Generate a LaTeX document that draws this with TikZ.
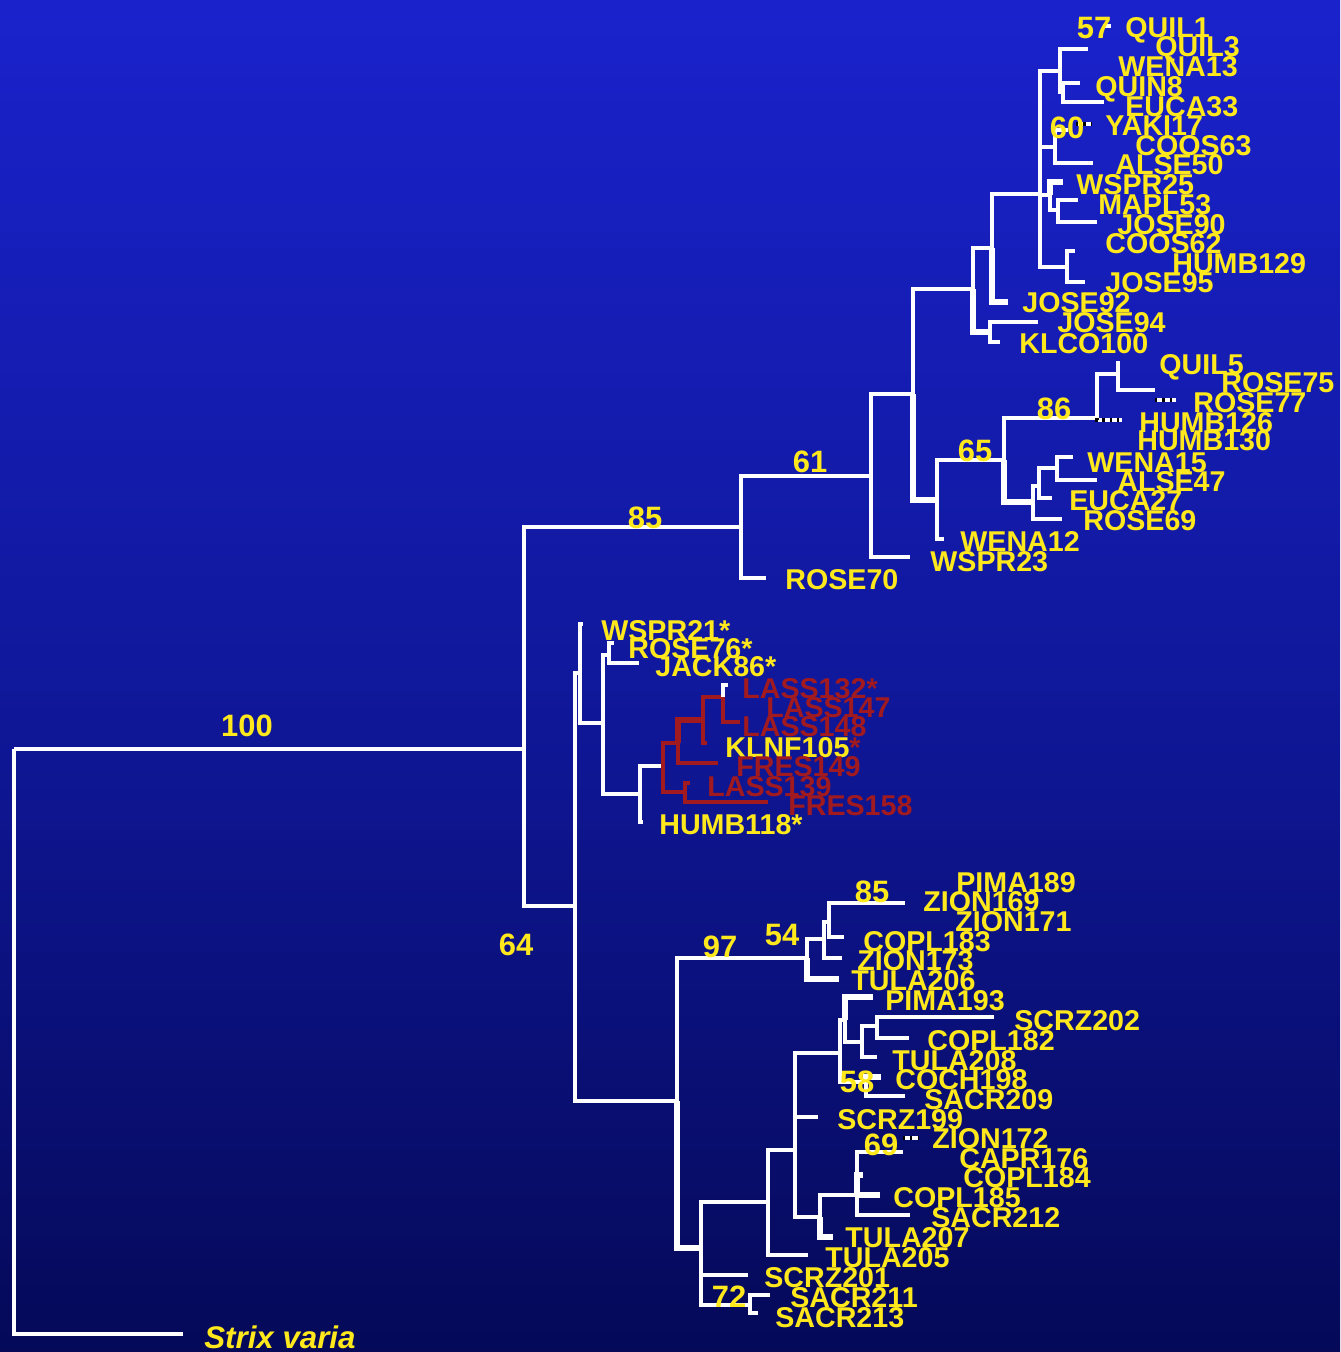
\documentclass[tikz,border=0pt]{standalone}
\usepackage{fontspec}
\setmainfont{Liberation Sans}
\definecolor{bgtop}{RGB}{26,34,204}
\definecolor{bgmid}{RGB}{16,24,156}
\definecolor{bgbot}{RGB}{5,9,88}
\definecolor{owlyellow}{RGB}{255,232,28}
\definecolor{owlred}{RGB}{160,26,32}

\begin{document}
\begin{tikzpicture}[x=0.02cm, y=-0.02cm,
  br/.style={draw=white, line width=2pt},
  brthick/.style={draw=white, line width=3.6pt},
  brred/.style={draw=owlred, line width=2pt},
  nullbr/.style={draw=white, line width=2pt,
    postaction={draw=black, line width=2pt, dash pattern=on 1.2pt off 3pt}},
  leaf/.style={anchor=west, inner sep=0pt, text=owlyellow,
    font=\fontsize{16.3}{18}\selectfont\bfseries,
    text height=11.7pt, text depth=0pt},
  redleaf/.style={leaf, text=owlred},
  boot/.style={inner sep=0pt, text=owlyellow,
    font=\fontsize{17.6}{20}\selectfont\bfseries,
    text height=12.6pt, text depth=0pt},
]
\shade[top color=bgtop, bottom color=bgbot, middle color=bgmid]
  (0,0) rectangle (1340,1352);
\useasboundingbox (0,0) rectangle (1340,1352);

% root and outgroup
\coordinate (root) at (14,749);
\coordinate (ingrp) at (524,749);
\coordinate (strix) at (183,1334);

% northern clade
\coordinate (nA) at (741,527);
\coordinate (nA1) at (871,476);
\coordinate (nA2) at (913,394);
\coordinate (tRose70) at (766,578);
\coordinate (tWspr23) at (910,557);
\coordinate (nC) at (973,289);
\coordinate (nD) at (937,500);
\coordinate (tWena12) at (944,539);
\coordinate (nD1) at (1004,460);
\coordinate (nE) at (1097,418);
\coordinate (nE1) at (1118,374);
\coordinate (tQuil5) at (1118,361);
\coordinate (tRose75) at (1155,390);
\coordinate (tHumb126) at (1122,420);
\coordinate (nF) at (1033,502);
\coordinate (nF1) at (1039,486);
\coordinate (tRose69) at (1062,519);
\coordinate (nG) at (1057,468);
\coordinate (tEuca27) at (1052,498);
\coordinate (tWena15) at (1073,457);
\coordinate (tAlse47) at (1097,480);
\coordinate (nH) at (992,248);
\coordinate (nI) at (990,332);
\coordinate (tJose92) at (1008,302);
\coordinate (tI1) at (1038,322);
\coordinate (tI2) at (1000,342);
\coordinate (nJ) at (1040,194);
\coordinate (nK) at (1060,71);
\coordinate (nK2) at (1063,92);
\coordinate (tK1) at (1088,49);
\coordinate (tK2) at (1080,83);
\coordinate (tK3) at (1104,102);
\coordinate (nM) at (1055,147);
\coordinate (tM1) at (1068,130);
\coordinate (tM2) at (1093,163);
\coordinate (nN) at (1050,195);
\coordinate (tN1) at (1063,182);
\coordinate (nO) at (1058,210);
\coordinate (tO1) at (1078,200);
\coordinate (tO2) at (1097,222);
\coordinate (nP) at (1067,267);
\coordinate (tP1) at (1075,251);
\coordinate (tP2) at (1085,282);
\coordinate (tk57a) at (1103,26);
\coordinate (tk57b) at (1111,26);
\coordinate (tk60a) at (1076,124);
\coordinate (tk60b) at (1091,124);
\coordinate (r77a) at (1155,400);
\coordinate (r77b) at (1176,400);

% southern clades
\coordinate (nB) at (575,906);
\coordinate (nQ) at (580,673);
\coordinate (tWspr21) at (583,624);
\coordinate (nS) at (603,723);
\coordinate (nT) at (609,655);
\coordinate (tRose76) at (614,643);
\coordinate (tJack86) at (639,663);
\coordinate (nU) at (640,794);
\coordinate (tHumb118) at (643,822);
\coordinate (nV) at (663,766);
\coordinate (nW) at (678,743);
\coordinate (nX) at (685,792);
\coordinate (nY) at (703,720);
\coordinate (tFres149) at (718,763);
\coordinate (nZ) at (723,697);
\coordinate (tKlnf105) at (707,743);
\coordinate (tLass132) at (728,685);
\coordinate (tLass148) at (740,722);
\coordinate (tLass139) at (690,783);
\coordinate (tFres158) at (768,802);

\coordinate (nR) at (677,1101);
\coordinate (n97) at (807,958);
\coordinate (n54) at (824,939);
\coordinate (n85) at (829,922);
\coordinate (tTula206) at (839,979);
\coordinate (tZion173) at (842,958);
\coordinate (tPima189) at (905,903);
\coordinate (tCopl183) at (844,937);
\coordinate (nAA) at (701,1248);
\coordinate (nAB) at (768,1202);
\coordinate (nAC) at (750,1305);
\coordinate (tScrz201) at (748,1275);
\coordinate (tSacr211) at (770,1295);
\coordinate (tSacr213) at (758,1313);
\coordinate (tTula205) at (808,1255);
\coordinate (nAD) at (795,1150);
\coordinate (nAE) at (840,1053);
\coordinate (tScrz199) at (818,1117);
\coordinate (nAF) at (820,1217);
\coordinate (nAG) at (845,1020);
\coordinate (nAH) at (866,1082);
\coordinate (tPima193) at (873,997);
\coordinate (nAI) at (862,1042);
\coordinate (nAJ) at (877,1026);
\coordinate (tTula208) at (877,1057);
\coordinate (tScrz202) at (994,1017);
\coordinate (tCopl182) at (909,1038);
\coordinate (tCoch198) at (881,1077);
\coordinate (tSacr209) at (905,1096);
\coordinate (n69) at (857,1195);
\coordinate (tTula207) at (833,1237);
\coordinate (tZion172) at (903,1152);
\coordinate (tCapr) at (863,1175);
\coordinate (tCopl185) at (880,1195);
\coordinate (tSacr212) at (910,1215);
\coordinate (tk69a) at (903,1138);
\coordinate (tk69b) at (918,1138);

% branches
\draw[br] (root) |- (strix) (root) |- (ingrp);
\draw[br] (ingrp) |- (nA) (ingrp) |- (nB);
\draw[br] (nA) |- (nA1) (nA) |- (tRose70);
\draw[br] (nA1) |- (nA2) (nA1) |- (tWspr23);
\draw[br] (nA2) |- (nC);
\draw[brthick] (nA2) |- (nD);
\draw[br] (nD) |- (nD1) (nD) |- (tWena12);
\draw[br] (nD1) |- (nE);
\draw[brthick] (nD1) |- (nF);
\draw[br] (nE) |- (nE1) (nE1) |- (tQuil5) (nE1) |- (tRose75);
\draw[nullbr] (nE) |- (tHumb126);
\draw[nullbr] (r77a) -- (r77b);
\draw[br] (nF) |- (nF1) (nF) |- (tRose69);
\draw[br] (nF1) |- (nG) (nF1) |- (tEuca27);
\draw[br] (nG) |- (tWena15) (nG) |- (tAlse47);
\draw[br] (nC) |- (nH);
\draw[brthick] (nC) |- (nI);
\draw[br] (nI) |- (tI1) (nI) |- (tI2);
\draw[br] (nH) |- (nJ);
\draw[brthick] (nH) |- (tJose92);
\draw[br] (nJ) |- (nK) (nJ) |- (nM) (nJ) |- (nN) (nJ) |- (nP);
\draw[br] (nK) |- (tK1) (nK) |- (nK2);
\draw[br] (nK2) |- (tK2) (nK2) |- (tK3);
\draw[br] (nM) |- (tM1) (nM) |- (tM2);
\draw[brthick] (nN) |- (tN1);
\draw[br] (nN) |- (nO);
\draw[br] (nO) |- (tO1) (nO) |- (tO2);
\draw[br] (nP) |- (tP1) (nP) |- (tP2);
\draw[br] (tk57a) -- (tk57b);
\draw[nullbr] (tk60a) -- (tk60b);

\draw[br] (nB) |- (nQ) (nB) |- (nR);
\draw[br] (nQ) |- (tWspr21) (nQ) |- (nS);
\draw[br] (nS) |- (nT) (nS) |- (nU);
\draw[br] (nT) |- (tRose76) (nT) |- (tJack86);
\draw[br] (nU) |- (nV) (nU) |- (tHumb118);
\draw[brred] (nV) |- (nW) (nV) |- (nX);
\draw[brred] (nW) |- (tFres149);
\draw[brred, line width=3.6pt] (nW) |- (nY);
\draw[brred] (nY) |- (nZ) (nY) |- (tKlnf105);
\draw[brred] (nZ) |- (tLass148);
\draw[br] (nZ) -- (nZ |- tLass132) -- (tLass132);
\draw[brred] (nX) |- (tLass139) (nX) |- (tFres158);

\draw[br] (nR) |- (n97);
\draw[brthick] (nR) |- (nAA);
\draw[br] (n97) |- (n54);
\draw[brthick] (n97) |- (tTula206);
\draw[br] (n54) |- (n85) (n54) |- (tZion173);
\draw[br] (n85) |- (tPima189) (n85) |- (tCopl183);
\draw[br] (nAA) |- (nAB) (nAA) |- (tScrz201) (nAA) |- (nAC);
\draw[br] (nAC) |- (tSacr211) (nAC) |- (tSacr213);
\draw[br] (nAB) |- (nAD) (nAB) |- (tTula205);
\draw[br] (nAD) |- (nAE) (nAD) |- (tScrz199) (nAD) |- (nAF);
\draw[br] (nAE) |- (nAG) (nAE) |- (nAH);
\draw[brthick] (nAG) |- (tPima193);
\draw[br] (nAG) |- (nAI);
\draw[br] (nAI) |- (nAJ) (nAI) |- (tTula208);
\draw[br] (nAJ) |- (tScrz202) (nAJ) |- (tCopl182);
\draw[brthick] (nAH) |- (tCoch198);
\draw[br] (nAH) |- (tSacr209);
\draw[br] (nAF) |- (n69);
\draw[brthick] (nAF) |- (tTula207);
\draw[br] (n69) |- (tZion172) (n69) |- (tSacr212);
\draw[brthick] (n69) |- (tCapr) (n69) |- (tCopl185);
\draw[nullbr] (tk69a) -- (tk69b);

% bootstrap values
\node[boot] (b100) at (247,725) {100};
\node[boot] (b85a) at (645,517) {85};
\node[boot] (b61) at (810,461) {61};
\node[boot] (b64) at (516,944) {64};
\node[boot] (b65) at (975,450) {65};
\node[boot] (b86) at (1054,408) {86};
\node[boot] (b57) at (1094,27) {57};
\node[boot] (b60) at (1067,127) {60};
\node[boot] (b85b) at (872,891) {85};
\node[boot] (b54) at (782,934) {54};
\node[boot] (b97) at (720,946) {97};
\node[boot] (b58) at (857,1081) {58};
\node[boot] (b69) at (881,1144) {69};
\node[boot] (b72) at (729,1296) {72};

% taxa
\node[leaf] (quil1) at (1125,27) {QUIL1};
\node[leaf] (quil3) at (1155,46) {QUIL3};
\node[leaf] (wena13) at (1118,66) {WENA13};
\node[leaf] (quin8) at (1095,86) {QUIN8};
\node[leaf] (euca33) at (1125,106) {EUCA33};
\node[leaf] (yaki17) at (1105,125) {YAKI17};
\node[leaf] (coos63) at (1135,145) {COOS63};
\node[leaf] (alse50) at (1115,164) {ALSE50};
\node[leaf] (wspr25) at (1076,184) {WSPR25};
\node[leaf] (mapl53) at (1098,204) {MAPL53};
\node[leaf] (jose90) at (1117,224) {JOSE90};
\node[leaf] (coos62) at (1105,243) {COOS62};
\node[leaf] (humb129) at (1172,263) {HUMB129};
\node[leaf] (jose95) at (1105,282) {JOSE95};
\node[leaf] (jose92) at (1022,302) {JOSE92};
\node[leaf] (jose94) at (1057,322) {JOSE94};
\node[leaf] (klco100) at (1019,343) {KLCO100};
\node[leaf] (quil5) at (1159,364) {QUIL5};
\node[leaf] (rose75) at (1221,382) {ROSE75};
\node[leaf] (rose77) at (1193,402) {ROSE77};
\node[leaf] (humb126) at (1139,422) {HUMB126};
\node[leaf] (humb130) at (1137,440) {HUMB130};
\node[leaf] (wena15) at (1087,462) {WENA15};
\node[leaf] (alse47) at (1117,481) {ALSE47};
\node[leaf] (euca27) at (1069,500) {EUCA27};
\node[leaf] (rose69) at (1083,520) {ROSE69};
\node[leaf] (wena12) at (960,541) {WENA12};
\node[leaf] (wspr23) at (930,561) {WSPR23};
\node[leaf] (rose70) at (785,579) {ROSE70};

\node[leaf] (wspr21) at (601,630) {WSPR21*};
\node[leaf] (rose76) at (628,648) {ROSE76*};
\node[leaf] (jack86) at (655,666) {JACK86*};
\node[redleaf] (lass132) at (742,688) {LASS132*};
\node[redleaf] (lass147) at (766,707) {LASS147};
\node[redleaf] (lass148) at (742,726) {LASS148};
\node[leaf] (klnf105) at (725,747) {KLNF105\textcolor{owlred}{*}};
\node[redleaf] (fres149) at (736,766) {FRES149};
\node[redleaf] (lass139) at (707,786) {LASS139};
\node[redleaf] (fres158) at (788,805) {FRES158};
\node[leaf] (humb118) at (659,824) {HUMB118*};

\node[leaf] (pima189) at (956,882) {PIMA189};
\node[leaf] (zion169) at (923,901) {ZION169};
\node[leaf] (zion171) at (955,921) {ZION171};
\node[leaf] (copl183) at (863,941) {COPL183};
\node[leaf] (zion173) at (857,960) {ZION173};
\node[leaf] (tula206) at (851,980) {TULA206};
\node[leaf] (pima193) at (885,1000) {PIMA193};
\node[leaf] (scrz202) at (1014,1020) {SCRZ202};
\node[leaf] (copl182) at (927,1040) {COPL182};
\node[leaf] (tula208) at (892,1060) {TULA208};
\node[leaf] (coch198) at (895,1079) {COCH198};
\node[leaf] (sacr209) at (924,1099) {SACR209};
\node[leaf] (scrz199) at (837,1119) {SCRZ199};
\node[leaf] (zion172) at (932,1138) {ZION172};
\node[leaf] (capr176) at (959,1158) {CAPR176};
\node[leaf] (copl184) at (963,1177) {COPL184};
\node[leaf] (copl185) at (893,1197) {COPL185};
\node[leaf] (sacr212) at (931,1217) {SACR212};
\node[leaf] (tula207) at (845,1237) {TULA207};
\node[leaf] (tula205) at (825,1257) {TULA205};
\node[leaf] (scrz201) at (764,1277) {SCRZ201};
\node[leaf] (sacr211) at (790,1297) {SACR211};
\node[leaf] (sacr213) at (775,1317) {SACR213};

\node[leaf, font=\fontsize{17.8}{20}\selectfont\bfseries\itshape,
  text height=12.7pt] (strixvaria) at (204,1337) {Strix varia};
\end{tikzpicture}
\end{document}
